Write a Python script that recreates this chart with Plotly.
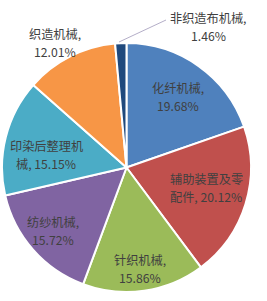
import plotly.graph_objects as go

labels = ["化纤机械", "辅助装置及零配件", "针织机械", "纺纱机械", "印染后整理机械", "织造机械", "非织造布机械"]
values = [19.68, 20.12, 15.86, 15.72, 15.15, 12.01, 1.46]
wrap_at = [None, 6, None, None, 6, None, None]   # where a long label is wrapped
colors = ["#4F81BD", "#C0504D", "#9BBB59", "#8064A2", "#4BACC6", "#F79646", "#1F497D"]

# label centres (pixels from top-left), first line
label_pos = [(178, 88), (206, 179), (140, 260), (53, 222), (46, 146), (55, 34), (208, 18)]

FONT = "Noto Sans CJK SC, Microsoft YaHei, sans-serif"
TXT = "#404040"
W, H = 267, 301
LINE_GAP = 18

fig = go.Figure(go.Pie(
    labels=labels, values=values, textinfo="none",
    sort=False, direction="clockwise", rotation=0,
    marker=dict(colors=colors, line=dict(color="white", width=2)),
    domain=dict(x=[0.0075, 0.94], y=[0.027, 0.86]),
    showlegend=False, hoverinfo="label+percent",
))

for lab, val, k, (px, py) in zip(labels, values, wrap_at, label_pos):
    pct = f"{val:.2f}%"
    if k is None:
        lines = [lab + ",", pct]
    else:
        lines = [lab[:k], lab[k:] + ", " + pct]
    for i, ln in enumerate(lines):
        fig.add_annotation(x=px / W, y=1 - (py + i * LINE_GAP) / H, xref="paper", yref="paper",
                           text=ln, showarrow=False, xanchor="center", yanchor="middle",
                           font=dict(family=FONT, size=12.2, color=TXT))

fig.add_shape(type="line", xref="paper", yref="paper",
              x0=119/W, y0=1-42/H, x1=166/W, y1=1-20/H,
              line=dict(color="#B4AEC8", width=1))

fig.update_layout(width=W, height=H, margin=dict(l=0, r=0, t=0, b=0),
                  paper_bgcolor="white", plot_bgcolor="white")
fig.write_html("out.html")
